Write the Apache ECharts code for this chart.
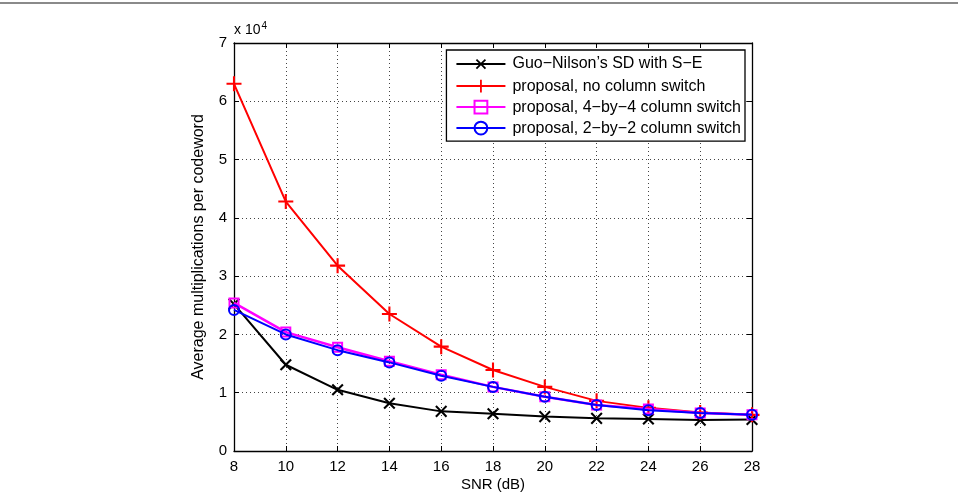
<!DOCTYPE html>
<html>
<head>
<meta charset="utf-8">
<script src="https://cdn.jsdelivr.net/npm/echarts@6/dist/echarts.min.js"></script>
<style>html,body{margin:0;padding:0;background:#fff;}#c{width:958px;height:492px;}</style>
</head>
<body>
<div id="c"></div>
<script>
// SNR (dB)
var snr = [8, 10, 12, 14, 16, 18, 20, 22, 24, 26, 28];
// Average multiplications per codeword
var guoNilson = [25200, 14800, 10500, 8200, 6800, 6400, 5900, 5600, 5500, 5300, 5400];
var noSwitch  = [63000, 42800, 31800, 23500, 17900, 13900, 11000, 8600, 7400, 6600, 6200];
var switch4x4 = [25400, 20400, 17800, 15400, 13100, 11000, 9300, 7900, 7200, 6500, 6200];
var switch2x2 = [24200, 20000, 17300, 15200, 12900, 11000, 9300, 7900, 7000, 6500, 6200];
var yTicks = [0, 1, 2, 3, 4, 5, 6, 7];
var seriesNames = ["Guo\u2212Nilson\u2019s SD with S\u2212E", "proposal, no column switch", "proposal, 4\u2212by\u22124 column switch", "proposal, 2\u2212by\u22122 column switch"];

function pairs(v){ return snr.map(function(x,i){ return [x, v[i]]; }); }

var plusPath = 'path://M-1.4,-10L1.4,-10L1.4,-1.4L10,-1.4L10,1.4L1.4,1.4L1.4,10L-1.4,10L-1.4,1.4L-10,1.4L-10,-1.4L-1.4,-1.4Z';
var font = 'Liberation Sans, Arial, Helvetica, sans-serif';

var chart = echarts.init(document.getElementById('c'), null, {renderer:'canvas'});
var axisCommon = {
  axisLine:{show:true, onZero:false, lineStyle:{color:'#000', width:1.3}},
  axisTick:{show:true, inside:true, length:5, lineStyle:{color:'#000', width:1}},
};
chart.setOption({
  animation:false,
  backgroundColor:'#fff',
  textStyle:{fontFamily:font},
  grid:{left:234, right:206, top:43, bottom:41, containLabel:false, outerBoundsMode:'none'},
  graphic:[
    {type:'rect', shape:{x:0,y:2,width:958,height:2}, style:{fill:'#8a8a8a'}, silent:true},
    {type:'text', left:234, top:21, style:{text:'{a|x 10}{b|4}', rich:{a:{fontSize:14, fontFamily:font, fill:'#000'}, b:{fontSize:10, fontFamily:font, fill:'#000', verticalAlign:'top', padding:[0,0,9,1]}}}}
  ],
  legend:{
    show:true, orient:'vertical', right:213, top:50,
    backgroundColor:'#fff', borderColor:'#000', borderWidth:1.3,
    padding:[5,4,5,9], itemGap:5, itemWidth:49, itemHeight:16,
    textStyle:{fontSize:16, fontFamily:font, color:'#000', padding:[0,0,0,2]},
    data:seriesNames
  },
  xAxis:[
    Object.assign({type:'value', min:8, max:28, interval:2, position:'bottom',
      name:'SNR (dB)', nameLocation:'middle', nameGap:26, nameMoveOverlap:false, nameTextStyle:{fontSize:15, color:'#000'},
      axisLabel:{fontSize:15, color:'#000', margin:8},
      splitLine:{show:true, lineStyle:{type:[1,3], color:'#444', width:1}}}, axisCommon),
    Object.assign({type:'value', min:8, max:28, interval:2, position:'top',
      axisLabel:{show:false}, splitLine:{show:false}}, axisCommon)
  ],
  yAxis:[
    Object.assign({type:'value', min:0, max:70000, interval:10000, position:'left',
      name:'Average multiplications per codeword', nameLocation:'middle', nameGap:27, nameMoveOverlap:false, nameTextStyle:{fontSize:16, color:'#000'},
      axisLabel:{fontSize:15, color:'#000', margin:7, formatter:function(v){ return String(yTicks[Math.round(v/10000)]); }},
      splitLine:{show:true, lineStyle:{type:[1,3], color:'#444', width:1}}}, axisCommon),
    Object.assign({type:'value', min:0, max:70000, interval:10000, position:'right',
      axisLabel:{show:false}, splitLine:{show:false}}, axisCommon)
  ],
  series:[
    {name:seriesNames[0], type:'line', data:pairs(guoNilson), symbol:plusPath, symbolSize:15, symbolRotate:45,
      lineStyle:{color:'#000', width:2}, itemStyle:{color:'#000'}, z:3},
    {name:seriesNames[1], type:'line', data:pairs(noSwitch), symbol:plusPath, symbolSize:15,
      lineStyle:{color:'#ff0000', width:2}, itemStyle:{color:'#ff0000'}, z:4},
    {name:seriesNames[2], type:'line', data:pairs(switch4x4), symbol:'rect', symbolSize:9,
      lineStyle:{color:'#ff00ff', width:2.5}, itemStyle:{color:'rgba(0,0,0,0)', borderColor:'#ff00ff', borderWidth:2}, z:5},
    {name:seriesNames[3], type:'line', data:pairs(switch2x2), symbol:'circle', symbolSize:10,
      lineStyle:{color:'#0000ff', width:2}, itemStyle:{color:'rgba(0,0,0,0)', borderColor:'#0000ff', borderWidth:2}, z:6}
  ]
});
</script>
</body>
</html>
